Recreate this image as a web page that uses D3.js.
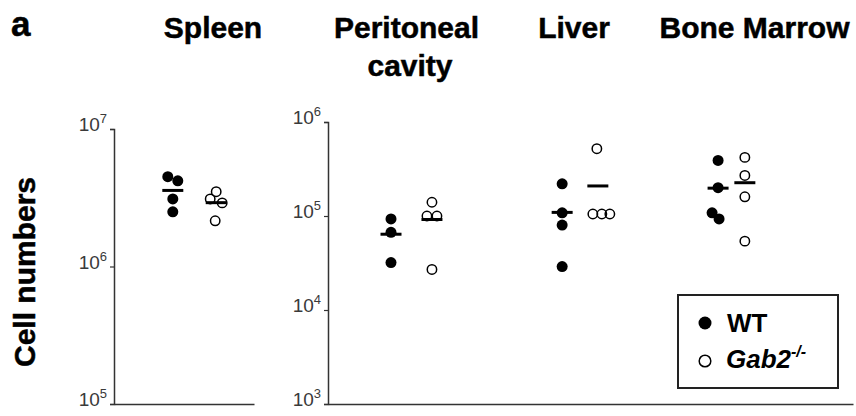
<!DOCTYPE html>
<html>
<head>
<meta charset="utf-8">
<script src="https://cdn.jsdelivr.net/npm/d3@7"></script>
<style>
  html, body { margin: 0; padding: 0; background: #fff; }
  svg { display: block; font-family: "Liberation Sans", Arial, Helvetica, sans-serif; }
</style>
</head>
<body>
<svg id="chart" width="856" height="416"></svg>
<script>
// ---- data ----
const panelTitles = ["Spleen", "Peritoneal cavity", "Liver", "Bone Marrow"];
const seriesNames = ["WT", "Gab2"];
const leftTicks = [1e5, 1e6, 1e7];
const rightTicks = [1e3, 1e4, 1e5, 1e6];

// cell numbers per mouse
const spleenWT = [4.5e6, 4.2e6, 3.1e6, 2.5e6];
const spleenKO = [3.5e6, 3.1e6, 2.9e6, 2.15e6];
const periWT   = [9.3e4, 6.7e4, 3.2e4];
const periKO   = [1.4e5, 1.0e5, 1.0e5, 2.7e4];
const liverWT  = [2.2e5, 1.08e5, 8.0e4, 2.9e4];
const liverKO  = [5.2e5, 1.05e5, 1.05e5, 1.05e5];
const bmWT     = [3.9e5, 2.0e5, 1.08e5, 9.3e4];
const bmKO     = [4.2e5, 2.7e5, 1.6e5, 5.4e4];

// horizontal jitter of each dot (in dot-step units)
const spleenWTj = [-1, 1, 0, 0];
const spleenKOj = [0, -1.2, 1.2, -0.2];
const periWTj   = [0, 0, 0];
const periKOj   = [0, -1, 1, 0];
const liverWTj  = [0, 0, 0, 0];
const liverKOj  = [-0.2, -1, 0.8, 2.4];
const bmWTj     = [0, 0, -1.2, 0.2];
const bmKOj     = [0, 0, 0, 0];

// group positions along each panel's category axis (0-100 units)
const leftGroupPos  = [42, 73];                            // Spleen WT, KO
const rightGroupPos = [12, 19.8, 44.6, 51.4, 74.3, 79.4];  // Peri WT/KO, Liver WT/KO, BM WT/KO

// ---- layout ----
const svg = d3.select("#chart");
const FONT = '"Liberation Sans", Arial, Helvetica, sans-serif';
const JIT = 5;       // px per jitter unit
const R = 5.5;       // dot radius
const MEAN_HALF = 10.5;

const leftX  = d3.scaleLinear().domain([0, 100]).range([114, 254]);
const leftY  = d3.scaleLog().domain([1e5, 1e7]).range([404, 129]);
const rightX = d3.scaleLinear().domain([0, 100]).range([328, 853]);
const rightY = d3.scaleLog().domain([1e3, 1e6]).range([404, 122]);

function supFormat(sel) {
  sel.each(function(d) {
    const t = d3.select(this);
    t.text(null);
    t.append("tspan").text("10");
    t.append("tspan").attr("dy", -8).attr("font-size", 13).text(Math.round(Math.log10(d)));
  });
}

function drawAxes(xs, ys, ticks) {
  const gy = svg.append("g")
    .attr("transform", `translate(${xs.range()[0]},0)`)
    .call(d3.axisLeft(ys).tickValues(ticks).tickSize(4).tickSizeOuter(4).tickFormat(() => ""));
  gy.select(".domain").attr("stroke", "#333").attr("stroke-width", 1.5);
  gy.selectAll(".tick line").attr("stroke", "#333").attr("stroke-width", 1.2);
  gy.selectAll(".tick text").remove();
  gy.selectAll(".lbl").data(ticks).join("text")
    .attr("class", "lbl")
    .attr("x", -7)
    .attr("y", d => ys(d) + 2)
    .attr("text-anchor", "end")
    .attr("font-family", FONT)
    .attr("font-size", 19)
    .attr("fill", "#3a3a3a")
    .call(supFormat);
  const gx = svg.append("g")
    .attr("transform", `translate(0,${ys.range()[0]})`)
    .call(d3.axisBottom(xs).tickValues([]).tickSizeOuter(0));
  gx.select(".domain").attr("stroke", "#333").attr("stroke-width", 1.5);
}

drawAxes(leftX, leftY, leftTicks);
drawAxes(rightX, rightY, rightTicks);

function drawGroup(xs, ys, pos, vals, jit, filled) {
  const cx = xs(pos);
  const g = svg.append("g");
  g.selectAll("circle").data(vals).join("circle")
    .attr("cx", (d, i) => cx + jit[i] * JIT)
    .attr("cy", d => ys(d))
    .attr("r", filled ? R : R - 0.8)
    .attr("fill", filled ? "#000" : "none")
    .attr("stroke", "#000")
    .attr("stroke-width", filled ? 0 : 1.5);
  const m = d3.mean(vals);
  g.append("line")
    .attr("x1", cx - MEAN_HALF).attr("x2", cx + MEAN_HALF)
    .attr("y1", ys(m)).attr("y2", ys(m))
    .attr("stroke", "#000").attr("stroke-width", 3);
}

drawGroup(leftX, leftY, leftGroupPos[0], spleenWT, spleenWTj, true);
drawGroup(leftX, leftY, leftGroupPos[1], spleenKO, spleenKOj, false);
drawGroup(rightX, rightY, rightGroupPos[0], periWT, periWTj, true);
drawGroup(rightX, rightY, rightGroupPos[1], periKO, periKOj, false);
drawGroup(rightX, rightY, rightGroupPos[2], liverWT, liverWTj, true);
drawGroup(rightX, rightY, rightGroupPos[3], liverKO, liverKOj, false);
drawGroup(rightX, rightY, rightGroupPos[4], bmWT, bmWTj, true);
drawGroup(rightX, rightY, rightGroupPos[5], bmKO, bmKOj, false);

// ---- titles ----
const boldText = s => s.attr("font-weight", "bold").attr("fill", "#000")
  .attr("stroke", "#000").attr("stroke-width", 0.5);

svg.append("text").attr("x", 11).attr("y", 36)
  .attr("font-size", 35).call(boldText).text("a");

const titleAnchors = [213, 406.5, 574, 754.5];
panelTitles.forEach((t, i) => {
  const words = i === 1 ? ["Peritoneal", "cavity"] : [t];
  const tx = svg.append("text")
    .attr("x", titleAnchors[i]).attr("y", 38)
    .attr("text-anchor", "middle")
    .attr("font-size", 30).call(boldText);
  words.forEach((w, k) => {
    tx.append("tspan").attr("x", titleAnchors[i] + (k ? 3.5 : 0)).attr("dy", k ? 38 : 0).text(w);
  });
});

svg.append("text")
  .attr("transform", "translate(35,272) rotate(-90)")
  .attr("text-anchor", "middle")
  .attr("font-size", 30).call(boldText)
  .text("Cell numbers");

// ---- legend ----
const lg = svg.append("g");
lg.append("rect").attr("x", 678).attr("y", 295).attr("width", 160).attr("height", 93)
  .attr("fill", "#fff").attr("stroke", "#222").attr("stroke-width", 2);
lg.append("circle").attr("cx", 705).attr("cy", 323).attr("r", 6.5).attr("fill", "#000");
lg.append("text").attr("x", 727).attr("y", 332).attr("font-size", 26).attr("font-weight", "bold")
  .text(seriesNames[0]);
lg.append("circle").attr("cx", 705).attr("cy", 361).attr("r", 5.8)
  .attr("fill", "none").attr("stroke", "#000").attr("stroke-width", 1.5);
const kt = lg.append("text").attr("x", 726).attr("y", 368).attr("font-size", 26)
  .attr("font-weight", "bold").attr("font-style", "italic");
kt.append("tspan").text(seriesNames[1]);
kt.append("tspan").attr("dy", -11).attr("font-size", 16).text("-/-");
</script>
</body>
</html>
